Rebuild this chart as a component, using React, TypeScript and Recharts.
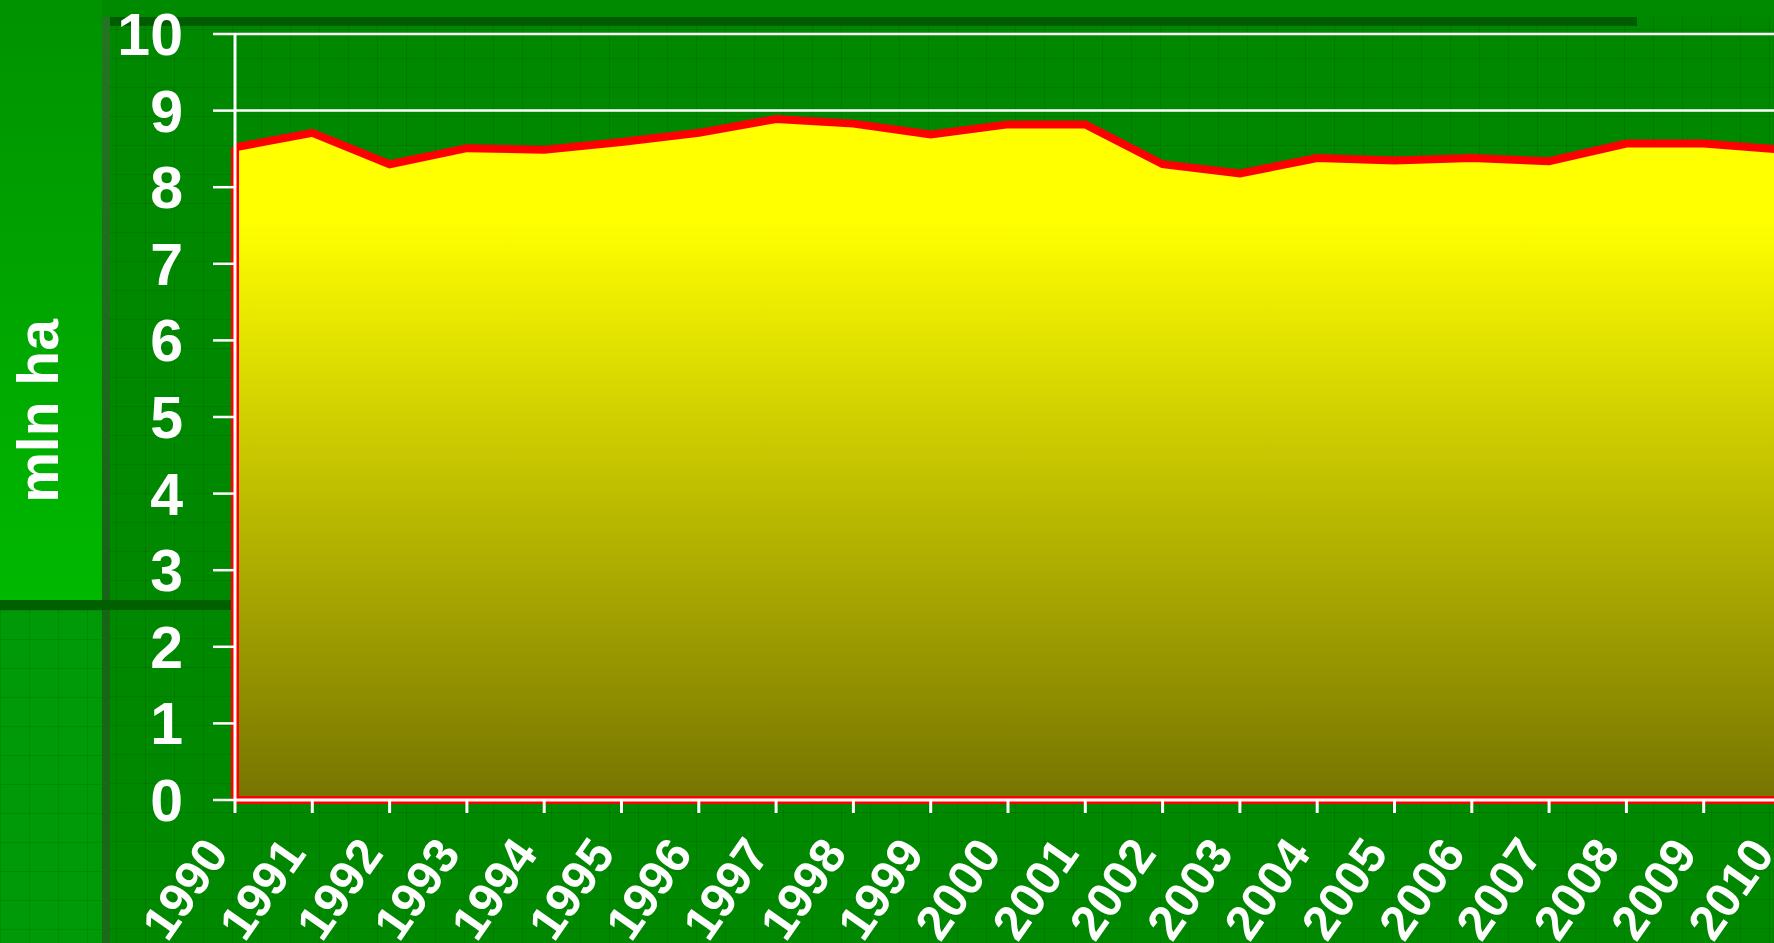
import { AreaChart, Area, XAxis, YAxis, CartesianGrid, ReferenceLine } from "recharts";

// values (million hectares)
const years = [
  1990, 1991, 1992, 1993, 1994, 1995, 1996, 1997, 1998, 1999, 2000,
  2001, 2002, 2003, 2004, 2005, 2006, 2007, 2008, 2009, 2010,
];
const area = [
  8.52, 8.71, 8.3, 8.51, 8.49, 8.59, 8.71, 8.89, 8.83, 8.69, 8.82,
  8.82, 8.3, 8.18, 8.38, 8.35, 8.38, 8.34, 8.57, 8.57, 8.49,
];
const yTicks = [0, 1, 2, 3, 4, 5, 6, 7, 8, 9, 10];

const data = years.map((year, i) => ({ year, value: area[i] }));

const FONT = "'Liberation Sans', Arial, Helvetica, sans-serif";
const TEXTURE =
  "linear-gradient(rgba(0,40,0,0.12) 1px, transparent 1px), linear-gradient(90deg, rgba(0,40,0,0.12) 1px, transparent 1px)";

const XTick = ({ x, y, payload }: any) => {
  const ax = x - 5;
  const ay = y + 39;
  return (
    <text
      x={ax}
      y={ay}
      transform={`rotate(-55 ${ax} ${ay})`}
      textAnchor="end"
      fill="#ffffff"
      fontFamily={FONT}
      fontWeight="bold"
      fontSize={49}
    >
      {payload.value}
    </text>
  );
};

export default function App() {
  return (
    <div
      style={{
        position: "fixed",
        left: 0,
        top: 0,
        width: 1774,
        height: 943,
        overflow: "hidden",
        backgroundColor: "#008800",
        backgroundImage: TEXTURE,
        backgroundSize: "29px 29px",
      }}
    >
      {/* flat top band */}
      <div style={{ position: "absolute", left: 0, top: 0, width: 1774, height: 17, background: "#008a00" }} />
      {/* left label panel */}
      <div
        style={{
          position: "absolute",
          left: 0,
          top: 0,
          width: 102,
          height: 600,
          background: "linear-gradient(#009200, #00b800)",
        }}
      />
      {/* lower left, lighter */}
      <div
        style={{
          position: "absolute",
          left: 0,
          top: 610,
          width: 102,
          height: 333,
          backgroundColor: "#009a08",
          backgroundImage: TEXTURE,
          backgroundSize: "29px 29px",
        }}
      />
      {/* dark top bar */}
      <div style={{ position: "absolute", left: 102, top: 17, width: 1535, height: 9, background: "#005c00" }} />
      {/* vertical bevel band */}
      <div
        style={{
          position: "absolute",
          left: 102,
          top: 17,
          width: 8,
          height: 926,
          background: "linear-gradient(#237523, #156515 60%, #1a6a1a)",
        }}
      />
      {/* horizontal dark bar */}
      <div style={{ position: "absolute", left: 0, top: 600, width: 232, height: 10, background: "#006000" }} />

      <svg style={{ position: "absolute", left: 0, top: 0 }} width={120} height={700}>
        <text
          x={58}
          y={411}
          transform="rotate(-90 58 411)"
          textAnchor="middle"
          fill="#ffffff"
          fontFamily={FONT}
          fontWeight="bold"
          fontSize={57}
        >
          mln ha
        </text>
      </svg>

      <div style={{ position: "absolute", left: 0, top: 0 }}>
        <AreaChart width={1800} height={943} data={data} margin={{ top: 34, right: 19, left: 0, bottom: 0 }}>
          <defs>
            <linearGradient id="fillArea" x1="0" y1="0" x2="0" y2="1">
              <stop offset="0%" stopColor="#ffff00" />
              <stop offset="15%" stopColor="#ffff00" />
              <stop offset="100%" stopColor="#767400" />
            </linearGradient>
          </defs>
          <CartesianGrid horizontal vertical={false} stroke="#ffffff" strokeWidth={2.5} />
          <Area
            type="linear"
            dataKey="value"
            stroke="#ff0000"
            strokeWidth={8}
            fill="url(#fillArea)"
            fillOpacity={1}
            isAnimationActive={false}
            dot={false}
            activeDot={false}
          />
          <ReferenceLine
            segment={[{ x: years[0], y: 0 }, { x: years[0], y: area[0] }]}
            stroke="#ff0000"
            strokeWidth={8}
          />
          <ReferenceLine y={0} stroke="#ff0000" strokeWidth={8} />
          <XAxis
            dataKey="year"
            type="number"
            domain={[years[0], years[years.length - 1]]}
            ticks={years}
            interval={0}
            height={143}
            tickSize={13}
            tick={<XTick />}
            axisLine={{ stroke: "#ffffff", strokeWidth: 3 }}
            tickLine={{ stroke: "#ffffff", strokeWidth: 3 }}
          />
          <YAxis
            domain={[0, 10]}
            ticks={yTicks}
            interval={0}
            width={235}
            tickSize={22}
            tickMargin={30}
            axisLine={{ stroke: "#ffffff", strokeWidth: 3 }}
            tickLine={{ stroke: "#ffffff", strokeWidth: 2.5 }}
            tick={{ fill: "#ffffff", fontFamily: FONT, fontWeight: "bold", fontSize: 59 }}
          />
        </AreaChart>
      </div>
    </div>
  );
}
